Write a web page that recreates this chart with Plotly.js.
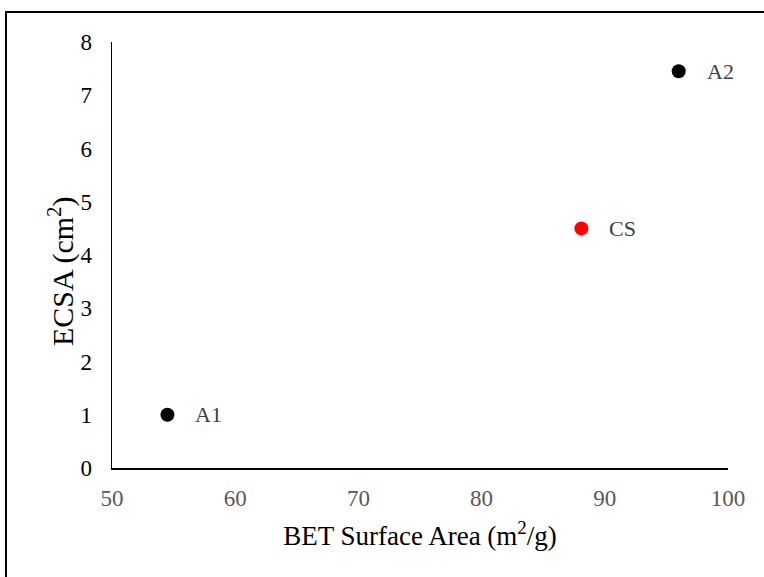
<!DOCTYPE html>
<html>
<head>
<meta charset="utf-8">
<script src="https://cdn.plot.ly/plotly-3.0.1.min.js"></script>
<style>
html,body{margin:0;padding:0;background:#fff;}
#chart{width:764px;height:577px;}
#chart svg text{font-family:"Liberation Serif", "Times New Roman", serif !important;}
#frame{position:absolute;left:5px;top:11px;width:800px;height:700px;border:2px solid #000;pointer-events:none;box-sizing:border-box;}
body{overflow:hidden;}
</style>
</head>
<body>
<div id="chart"></div>
<div id="frame"></div>
<script>
const labels = ["A1", "CS", "A2"];
const bet = [54.5, 88.1, 96.0];
const ecsa = [1.0, 4.5, 7.45];
const colors = ["#000000", "#ff0000", "#000000"];
const xTitle = "BET Surface Area (m<sup>2</sup>/g)";
const yTitle = "ECSA (cm<sup>2</sup>)";

const trace = {
  x: bet, y: ecsa, mode: "markers", type: "scatter",
  marker: {size: 14, color: colors},
  hoverinfo: "skip"
};

const annotations = labels.map((t, i) => ({
  x: bet[i], y: ecsa[i], xref: "x", yref: "y", text: t, showarrow: false,
  xanchor: "left", yanchor: "middle", xshift: 26,
  font: {size: 22, color: "#404040"}
}));
annotations.push({
  x: -0.083, y: 0.462, xref: "paper", yref: "paper", text: yTitle, showarrow: false,
  textangle: -90, xanchor: "center", yanchor: "middle",
  font: {size: 30, color: "#000"}
});

const layout = {
  width: 764, height: 577,
  margin: {l: 112, r: 36, t: 42, b: 109},
  paper_bgcolor: "#fff", plot_bgcolor: "#fff",
  font: {family: "Liberation Serif", size: 22, color: "#000"},
  showlegend: false,
  xaxis: {
    range: [50, 100], tickvals: [50,60,70,80,90,100], showgrid: false, zeroline: false,
    showline: true, linecolor: "#000", linewidth: 1.5, ticks: "", ticklabelstandoff: 9,
    tickfont: {size: 23, color: "#595959"},
    title: {text: xTitle, font: {size: 27, color: "#000"}, standoff: 16}
  },
  yaxis: {
    range: [0, 8], tickvals: [0,1,2,3,4,5,6,7,8], showgrid: false, zeroline: false,
    showline: true, linecolor: "#000", linewidth: 1.5, ticks: "", ticklabelstandoff: 14,
    tickfont: {size: 23, color: "#000"}
  },
  annotations: annotations
};

Plotly.newPlot("chart", [trace], layout, {displayModeBar: false, staticPlot: true});
</script>
</body>
</html>
